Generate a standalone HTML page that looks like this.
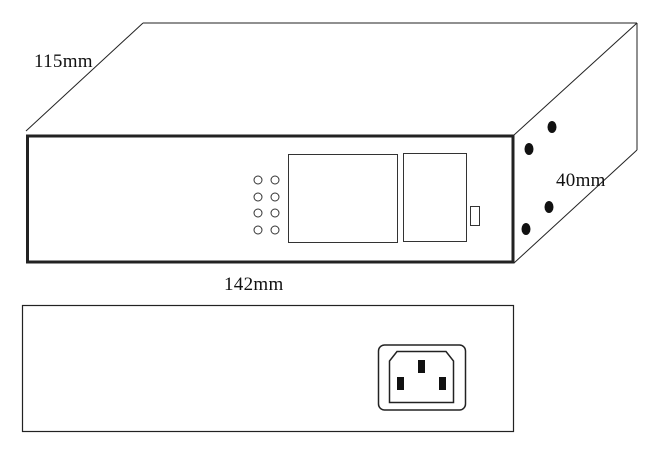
<!DOCTYPE html>
<html><head><meta charset="utf-8"><style>
html,body{margin:0;padding:0;background:#fff;}
svg{display:block;}
text{font-family:"Liberation Serif",serif;font-size:19px;fill:#111;letter-spacing:0.3px;}
</style></head><body>
<svg width="664" height="458" viewBox="0 0 664 458" xmlns="http://www.w3.org/2000/svg">
<g stroke="#222" fill="none" stroke-width="1">
<line x1="26" y1="131" x2="143" y2="23"/>
<line x1="143" y1="23" x2="637" y2="23"/>
<line x1="637" y1="23" x2="637" y2="150"/>
<line x1="514" y1="135" x2="637" y2="23"/>
<line x1="514" y1="263" x2="637" y2="150"/>
</g>
<rect x="27.5" y="136" width="485.5" height="126" fill="none" stroke="#222" stroke-width="3"/>
<g stroke="#333" fill="none" stroke-width="1">
<rect x="288.5" y="154.5" width="109" height="88"/>
<rect x="403.5" y="153.5" width="63" height="88"/>
<rect x="470.5" y="206.5" width="9" height="19"/>
<circle cx="258" cy="180" r="4"/><circle cx="275" cy="180" r="4"/>
<circle cx="258" cy="197" r="4"/><circle cx="275" cy="197" r="4"/>
<circle cx="258" cy="213" r="4"/><circle cx="275" cy="213" r="4"/>
<circle cx="258" cy="230" r="4"/><circle cx="275" cy="230" r="4"/>
</g>
<g fill="#111">
<ellipse cx="552" cy="127" rx="4.5" ry="6"/>
<ellipse cx="529" cy="149" rx="4.5" ry="6"/>
<ellipse cx="549" cy="207" rx="4.5" ry="6"/>
<ellipse cx="526" cy="229" rx="4.5" ry="6"/>
</g>
<text x="34" y="67">115mm</text>
<text x="556" y="186">40mm</text>
<text x="224" y="290">142mm</text>
<rect x="22.5" y="305.5" width="491" height="126" fill="none" stroke="#222" stroke-width="1.2"/>
<rect x="378.5" y="345" width="87" height="65" rx="6" fill="none" stroke="#222" stroke-width="1.5"/>
<path d="M389.5 402.5 L389.5 361 L397 351.5 L446 351.5 L453.5 361 L453.5 402.5 Z" fill="none" stroke="#222" stroke-width="1.5"/>
<g fill="#111">
<rect x="418" y="360" width="7" height="13"/>
<rect x="397" y="377" width="7" height="13"/>
<rect x="439" y="377" width="7" height="13"/>
</g>
</svg>
</body></html>
